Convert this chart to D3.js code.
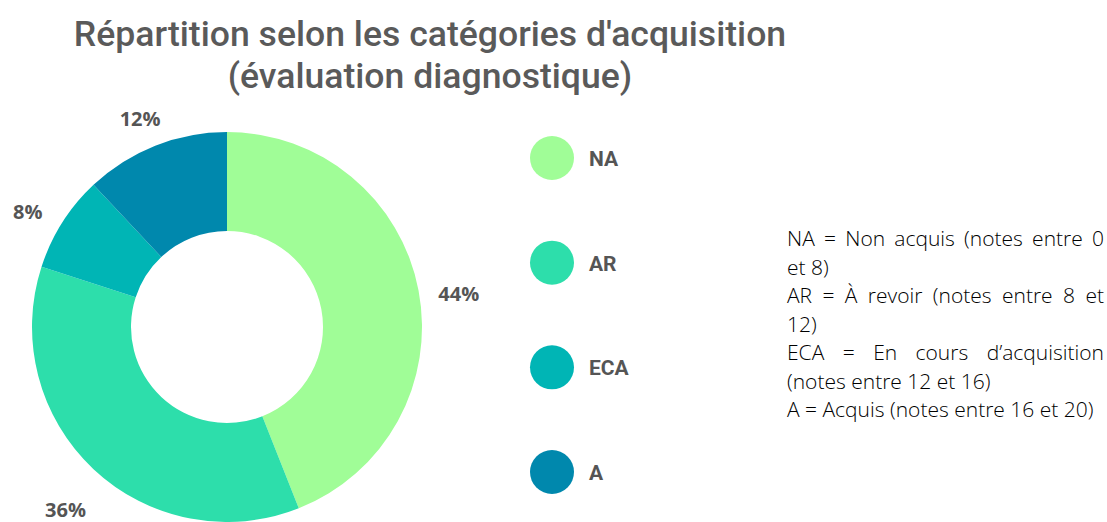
<!DOCTYPE html>
<html>
<head>
<meta charset="utf-8">
<script src="https://cdn.jsdelivr.net/npm/d3@7"></script>
<style>
  html, body { margin: 0; padding: 0; background: #fff; }
  svg { display: block; }
</style>
</head>
<body>
<svg id="chart" width="1107" height="522"></svg>
<script>
// --- données ---
const titleLines = ["Répartition selon les catégories d'acquisition", "(évaluation diagnostique)"];
const categories = ["NA", "AR", "ECA", "A"];
const shares     = [44, 36, 8, 12];
const colors     = ["#a0fd97", "#2ddeab", "#00b5b5", "#0088ad"];
const notes = [
  ["NA = Non acquis (notes entre 0", "et 8)"],
  ["AR = À revoir (notes entre 8 et", "12)"],
  ["ECA = En cours d’acquisition", "(notes entre 12 et 16)"],
  ["A = Acquis (notes entre 16 et 20)"]
];

const svg = d3.select("#chart");

// --- titre ---
svg.append("g").selectAll("text")
  .data(titleLines)
  .join("text")
  .attr("x", 430)
  .attr("y", (d, i) => 46 + i * 42)
  .attr("text-anchor", "middle")
  .style("font-family", "Roboto, 'Noto Sans', sans-serif")
  .style("font-weight", 500)
  .style("font-size", "35.6px")
  .style("fill", "#5a5a5a")
  .text(d => d);

// --- anneau ---
const cx = 227, cy = 327, rOut = 195, rIn = 96;
const data = categories.map((c, i) => ({ cat: c, value: shares[i], color: colors[i] }));

const pie = d3.pie().sort(null).value(d => d.value);
const arc = d3.arc().innerRadius(rIn).outerRadius(rOut);
const labelArc = d3.arc().innerRadius(236).outerRadius(236);

const g = svg.append("g").attr("transform", `translate(${cx},${cy})`);
const arcs = pie(data);

g.selectAll("path")
  .data(arcs)
  .join("path")
  .attr("d", arc)
  .attr("fill", d => d.data.color);

g.selectAll("text.pct")
  .data(arcs)
  .join("text")
  .attr("class", "pct")
  .attr("x", d => labelArc.centroid(d)[0])
  .attr("y", d => labelArc.centroid(d)[1] + 18)
  .attr("text-anchor", "middle")
  .style("font-family", "'Open Sans', 'Noto Sans', sans-serif")
  .style("font-weight", 700)
  .style("font-size", "20px")
  .style("fill", "#555")
  .text(d => d.data.value + "%");

// --- légende ---
const legendY = d3.scalePoint().domain(categories).range([158, 472]);
const legend = svg.append("g");
const item = legend.selectAll("g")
  .data(data)
  .join("g")
  .attr("transform", d => `translate(552,${legendY(d.cat)})`);

item.append("circle")
  .attr("r", 22)
  .attr("fill", d => d.color);

item.append("text")
  .attr("x", 37)
  .attr("y", 8)
  .style("font-family", "Roboto, 'Liberation Sans', sans-serif")
  .style("font-weight", 700)
  .style("font-size", "21px")
  .style("fill", "#555")
  .text(d => d.cat);

// --- notes (texte justifié) ---
const noteX0 = 787, noteX1 = 1104, noteY0 = 246, lineH = 28.5;
const noteG = svg.append("g")
  .style("font-family", "'Open Sans', Lato, sans-serif")
  .style("font-weight", 300)
  .style("font-size", "21px")
  .style("fill", "#000");

const lines = [];
notes.forEach(p => p.forEach((l, j) => lines.push({ text: l, justify: j < p.length - 1 })));

lines.forEach((ln, i) => {
  const y = noteY0 + i * lineH;
  if (!ln.justify) {
    noteG.append("text").attr("x", noteX0).attr("y", y).text(ln.text);
    return;
  }
  const words = ln.text.split(" ");
  const t = noteG.append("text").attr("y", y);
  const spans = words.map(w => t.append("tspan").text(w));
  const widths = spans.map(s => s.node().getComputedTextLength());
  const gap = (noteX1 - noteX0 - d3.sum(widths)) / (words.length - 1);
  let x = noteX0;
  spans.forEach((s, k) => { s.attr("x", x); x += widths[k] + gap; });
});
</script>
</body>
</html>
